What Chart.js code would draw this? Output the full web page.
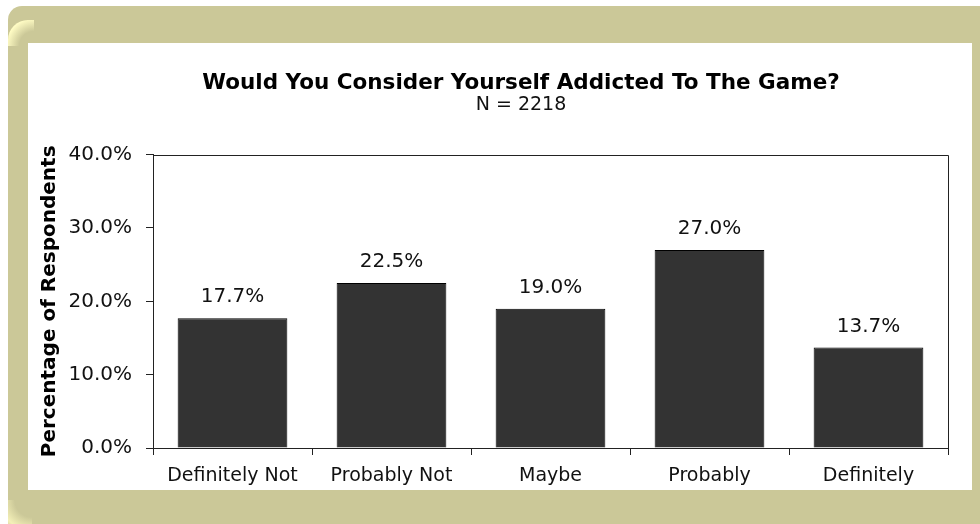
<!DOCTYPE html>
<html>
<head>
<meta charset="utf-8">
<script src="https://cdn.jsdelivr.net/npm/chart.js@4/dist/chart.umd.min.js"></script>
<style>
  html, body { margin: 0; padding: 0; width: 980px; height: 524px; overflow: hidden; background: #fff; }
  #frame { position: absolute; left: 8px; top: 6px; width: 990px; height: 540px; background: #cbc898; border-radius: 14px 10px 0 14px; overflow: hidden; }
  #glowTop { position: absolute; left: 0; top: 14px; width: 26px; height: 26px;
    background: radial-gradient(circle at 100% 100%, #cbc898 0, #cbc898 40%, #fffcc4 75%, #cbc898 100%); border-top-left-radius: 20px; }
  #glowBottom { position: absolute; left: 0; top: 494px; width: 24px; height: 30px;
    background: radial-gradient(circle at 100% 0%, #cbc898 0, #cbc898 45%, #f4f0b8 80%, #cbc898 100%); }
  #panel { position: absolute; left: 28px; top: 43px; width: 944px; height: 447px; background: #fff; }
  #wrap { position: absolute; left: 28px; top: 43px; width: 986px; height: 447px; }
</style>
</head>
<body>
<div id="frame"><div id="glowTop"></div><div id="glowBottom"></div></div>
<div id="panel"></div>
<div id="wrap"><canvas id="chart" width="986" height="447"></canvas></div>
<script>
const categories = ["Definitely Not", "Probably Not", "Maybe", "Probably", "Definitely"];
const respondents = [17.7, 22.5, 19.0, 27.0, 13.7];
const chartTitle = "Would You Consider Yourself Addicted To The Game?";
const chartSubtitle = "N = 2218";
const yAxisTitle = "Percentage of Respondents";

const FONT = "'DejaVu Sans', Verdana, sans-serif";

// box around the plot + value labels over the bars
const extras = {
  id: "extras",
  afterDatasetsDraw(chart) {
    const { ctx, chartArea } = chart;
    ctx.save();
    ctx.strokeStyle = "#222";
    ctx.lineWidth = 1;
    ctx.beginPath();
    ctx.moveTo(Math.round(chartArea.left) + 0.5, Math.round(chartArea.top) + 0.5);
    ctx.lineTo(Math.round(chartArea.right) + 0.5, Math.round(chartArea.top) + 0.5);
    ctx.lineTo(Math.round(chartArea.right) + 0.5, Math.round(chartArea.bottom) + 0.5);
    ctx.stroke();

    ctx.fillStyle = "#111";
    ctx.font = "20px " + FONT;
    ctx.textAlign = "center";
    ctx.textBaseline = "middle";
    chart.getDatasetMeta(0).data.forEach((bar, i) => {
      ctx.fillText(respondents[i].toFixed(1) + "%", bar.x, bar.y - 21);
    });
    ctx.restore();
  }
};

new Chart(document.getElementById("chart"), {
  type: "bar",
  data: {
    labels: categories,
    datasets: [{
      data: respondents,
      backgroundColor: "#333333",
      borderColor: "#000",
      borderWidth: 1,
      barPercentage: 0.69,
      categoryPercentage: 1.0
    }]
  },
  options: {
    responsive: false,
    animation: false,
    devicePixelRatio: 1,
    layout: { padding: { left: 0, right: 0, top: 0, bottom: 2 } },
    plugins: {
      legend: { display: false },
      tooltip: { enabled: false },
      title: {
        display: true,
        text: chartTitle,
        color: "#000",
        font: { family: FONT, size: 21.5, weight: "bold", lineHeight: 1.1 },
        padding: { top: 29, bottom: 0 }
      },
      subtitle: {
        display: true,
        text: chartSubtitle,
        color: "#111",
        font: { family: FONT, size: 19, lineHeight: 1.0 },
        padding: { top: 0, bottom: 40 }
      }
    },
    scales: {
      x: {
        afterFit(scale) { scale.height = 40; },
        grid: { offset: true, drawOnChartArea: false, tickLength: 7, color: "#222" },
        border: { color: "#222", width: 1 },
        ticks: { color: "#111", font: { family: FONT, size: 19 }, padding: 10, maxRotation: 0 }
      },
      y: {
        min: 0,
        max: 40,
        afterFit(scale) { scale.width = 125; },
        grid: { drawOnChartArea: false, tickLength: 7, color: "#222" },
        border: { color: "#222", width: 1 },
        ticks: {
          stepSize: 10,
          color: "#111",
          padding: 14,
          font: { family: FONT, size: 20 },
          callback: v => v.toFixed(1) + "%"
        },
        title: {
          display: true,
          text: yAxisTitle,
          color: "#000",
          font: { family: FONT, size: 20, weight: "bold" },
          padding: { top: 10, bottom: 2 }
        }
      },
      // empty right-hand axis: only keeps the plot clear of the right margin
      yRight: {
        type: "linear",
        position: "right",
        afterFit(scale) { scale.width = 66; },
        grid: { display: false },
        border: { display: false },
        ticks: { display: false }
      }
    }
  },
  plugins: [extras]
});
</script>
</body>
</html>
